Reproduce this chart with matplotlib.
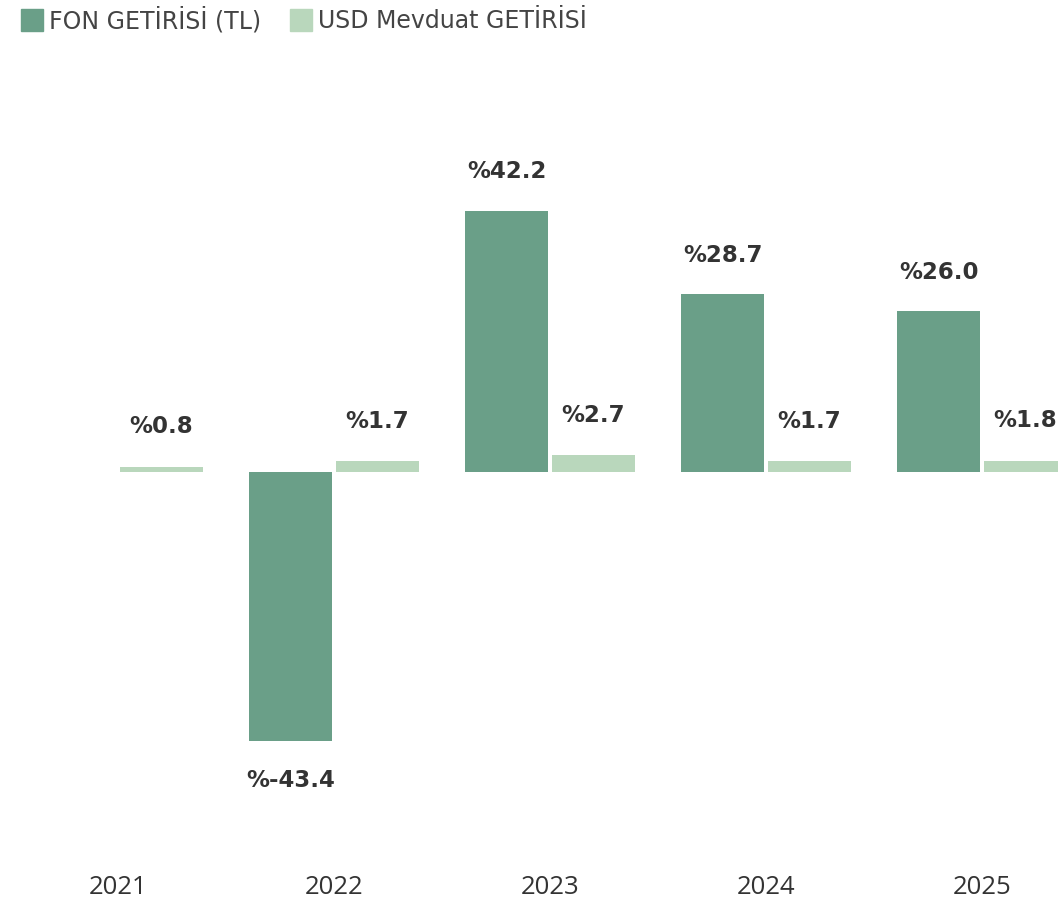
import numpy as np
import matplotlib.pyplot as plt
from matplotlib.patches import Patch

years = ['2021', '2022', '2023', '2024', '2025']
fon_getirisi = [np.nan, -43.4, 42.2, 28.7, 26.0]
usd_getirisi = [0.8, 1.7, 2.7, 1.7, 1.8]

fon_color = '#6a9f88'
usd_color = '#b9d7bc'
text_color = '#333333'

plt.rcParams['font.family'] = ['Open Sans', 'DejaVu Sans']
label_font = dict(family='DejaVu Sans', fontsize=16.5, fontweight='bold')

fig = plt.figure(figsize=(10.58, 9.09), dpi=100)
# axes runs from the top edge down to y=860px; the right side is clipped on purpose
ax = fig.add_axes([0, 49 / 909, 1, 860 / 909])

x = np.arange(len(years))
width = 0.384
offset = 0.201

ax.bar(x - offset, fon_getirisi, width, color=fon_color)
ax.bar(x + offset, usd_getirisi, width, color=usd_color)

for xi, v in zip(x, fon_getirisi):
    if np.isnan(v):
        continue
    dy = 28 if v >= 0 else -29
    ax.annotate(f'%{v:.1f}', (xi - offset, v), xytext=(0, dy),
                textcoords='offset points', ha='center', va='center',
                color=text_color, **label_font)

for xi, v in zip(x, usd_getirisi):
    ax.annotate(f'%{v:.1f}', (xi + offset, v), xytext=(0, 29),
                textcoords='offset points', ha='center', va='center',
                color=text_color, annotation_clip=False, **label_font)

scale = 6.19
ax.set_xlim(-118 / 216, (1058 - 118) / 216)
ax.set_ylim(-(860 - 472) / scale, 472 / scale)

ax.set_xticks(x)
ax.set_xticklabels(years, fontsize=18.5, color=text_color)
ax.tick_params(axis='x', length=0, pad=11)
ax.set_yticks([])
for s in ax.spines.values():
    s.set_visible(False)

handles = [Patch(color=fon_color), Patch(color=usd_color)]
fig.legend(handles, ['FON GETİRİSİ (TL)', 'USD Mevduat GETİRİSİ'],
           loc='upper left', bbox_to_anchor=(21 / 1058, 1 - 7 / 909), ncol=2,
           frameon=False, prop={'family': 'DejaVu Sans', 'size': 17},
           handlelength=0.95, handleheight=1.05, borderaxespad=0, borderpad=0,
           handletextpad=0.25, columnspacing=1.2, labelcolor='#444444')

plt.savefig('out.png', dpi=100)
